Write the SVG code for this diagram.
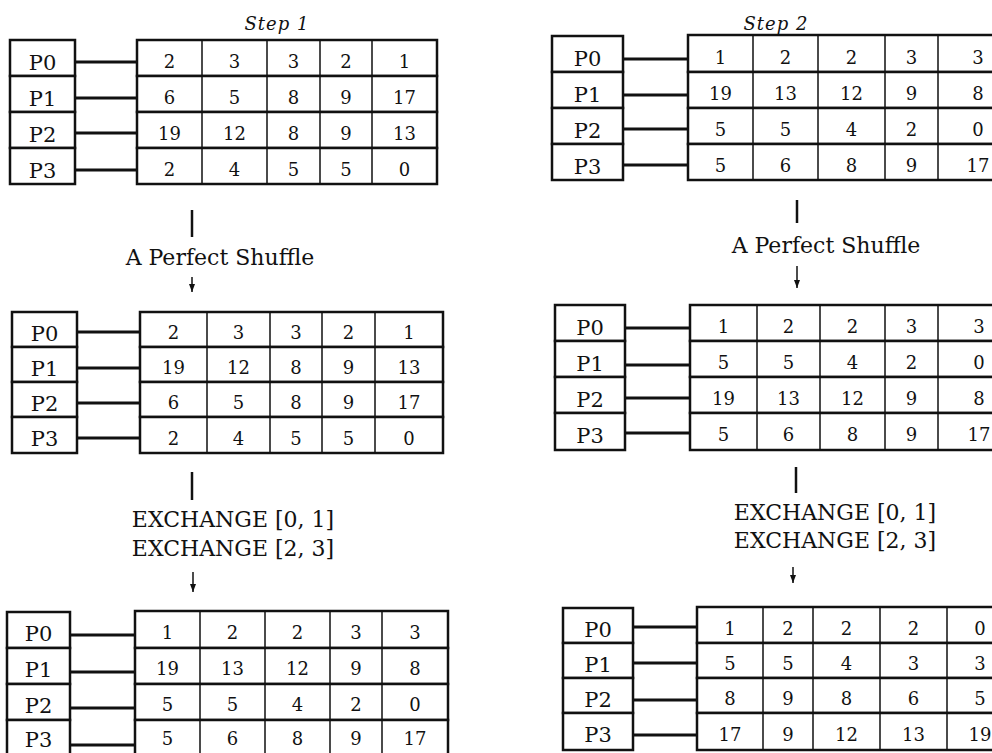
<svg xmlns="http://www.w3.org/2000/svg" width="992" height="753" viewBox="0 0 992 753">
<style>
  .cell { fill: #fff; stroke: #111; stroke-width: 2.5; }
  .col { stroke: #111; stroke-width: 1.5; }
  .con { stroke: #111; stroke-width: 3; fill: none; }
  .flow { stroke: #111; stroke-width: 2.5; fill: none; }
  .arr { stroke: #111; stroke-width: 1.5; fill: none; }
  text { font-family: "DejaVu Serif", "Liberation Serif", serif; fill: #111; text-anchor: middle; }
  .n { font-size: 18px; }
  .p { font-size: 21px; }
  .lbl { font-size: 22px; }
  .step { font-size: 18px; font-style: italic; letter-spacing: 1px; }
</style>
<defs>
  <marker id="ah" viewBox="0 0 8 6" refX="8" refY="3" markerWidth="8" markerHeight="6" markerUnits="userSpaceOnUse" orient="auto">
    <path d="M0,0 L8,3 L0,6 z" fill="#111"/>
  </marker>
</defs>
<rect width="992" height="753" fill="#fff"/>

<!-- Labels -->
<g id="label-step1"><text class="step" x="277" y="30">Step 1</text></g>
<g id="label-step2"><text class="step" x="776" y="30">Step 2</text></g>
<g id="label-shuffle-left"><text class="lbl" x="220" y="265">A Perfect Shuffle</text></g>
<g id="label-shuffle-right"><text class="lbl" x="826" y="253">A Perfect Shuffle</text></g>
<g id="label-exchange-left"><text class="lbl" x="233" y="527">EXCHANGE [0, 1]</text><text class="lbl" x="233" y="556">EXCHANGE [2, 3]</text></g>
<g id="label-exchange-right"><text class="lbl" x="835" y="520">EXCHANGE [0, 1]</text><text class="lbl" x="835" y="548">EXCHANGE [2, 3]</text></g>

<!-- ===== Left block 1 ===== -->
<g id="L1-P0"><rect class="cell" x="10" y="40" width="65" height="36"/><text class="p" x="42.5" y="70">P0</text></g>
<g id="L1-P1"><rect class="cell" x="10" y="76" width="65" height="36"/><text class="p" x="42.5" y="106">P1</text></g>
<g id="L1-P2"><rect class="cell" x="10" y="112" width="65" height="36"/><text class="p" x="42.5" y="142">P2</text></g>
<g id="L1-P3"><rect class="cell" x="10" y="148" width="65" height="36"/><text class="p" x="42.5" y="178">P3</text></g>
<g id="L1-R0"><rect class="cell" x="137" y="40" width="300" height="36"/><path class="col" d="M202,40V76M267,40V76M320,40V76M372,40V76"/>
  <text class="n" y="68"><tspan x="169.5">2</tspan><tspan x="234.5">3</tspan><tspan x="293.5">3</tspan><tspan x="346">2</tspan><tspan x="404.5">1</tspan></text></g>
<g id="L1-R1"><rect class="cell" x="137" y="76" width="300" height="36"/><path class="col" d="M202,76V112M267,76V112M320,76V112M372,76V112"/>
  <text class="n" y="104"><tspan x="169.5">6</tspan><tspan x="234.5">5</tspan><tspan x="293.5">8</tspan><tspan x="346">9</tspan><tspan x="404.5">17</tspan></text></g>
<g id="L1-R2"><rect class="cell" x="137" y="112" width="300" height="36"/><path class="col" d="M202,112V148M267,112V148M320,112V148M372,112V148"/>
  <text class="n" y="140"><tspan x="169.5">19</tspan><tspan x="234.5">12</tspan><tspan x="293.5">8</tspan><tspan x="346">9</tspan><tspan x="404.5">13</tspan></text></g>
<g id="L1-R3"><rect class="cell" x="137" y="148" width="300" height="36"/><path class="col" d="M202,148V184M267,148V184M320,148V184M372,148V184"/>
  <text class="n" y="176"><tspan x="169.5">2</tspan><tspan x="234.5">4</tspan><tspan x="293.5">5</tspan><tspan x="346">5</tspan><tspan x="404.5">0</tspan></text></g>

<!-- ===== Left block 2 ===== -->
<g id="L2-P0"><rect class="cell" x="12" y="312" width="65" height="35"/><text class="p" x="44.5" y="341">P0</text></g>
<g id="L2-P1"><rect class="cell" x="12" y="347" width="65" height="35"/><text class="p" x="44.5" y="376">P1</text></g>
<g id="L2-P2"><rect class="cell" x="12" y="382" width="65" height="35"/><text class="p" x="44.5" y="411">P2</text></g>
<g id="L2-P3"><rect class="cell" x="12" y="417" width="65" height="36"/><text class="p" x="44.5" y="446">P3</text></g>
<g id="L2-R0"><rect class="cell" x="140" y="312" width="303" height="35"/><path class="col" d="M207,312V347M270,312V347M322,312V347M375,312V347"/>
  <text class="n" y="339"><tspan x="173.5">2</tspan><tspan x="238.5">3</tspan><tspan x="296">3</tspan><tspan x="348.5">2</tspan><tspan x="409">1</tspan></text></g>
<g id="L2-R1"><rect class="cell" x="140" y="347" width="303" height="35"/><path class="col" d="M207,347V382M270,347V382M322,347V382M375,347V382"/>
  <text class="n" y="374"><tspan x="173.5">19</tspan><tspan x="238.5">12</tspan><tspan x="296">8</tspan><tspan x="348.5">9</tspan><tspan x="409">13</tspan></text></g>
<g id="L2-R2"><rect class="cell" x="140" y="382" width="303" height="35"/><path class="col" d="M207,382V417M270,382V417M322,382V417M375,382V417"/>
  <text class="n" y="409"><tspan x="173.5">6</tspan><tspan x="238.5">5</tspan><tspan x="296">8</tspan><tspan x="348.5">9</tspan><tspan x="409">17</tspan></text></g>
<g id="L2-R3"><rect class="cell" x="140" y="417" width="303" height="36"/><path class="col" d="M207,417V453M270,417V453M322,417V453M375,417V453"/>
  <text class="n" y="445"><tspan x="173.5">2</tspan><tspan x="238.5">4</tspan><tspan x="296">5</tspan><tspan x="348.5">5</tspan><tspan x="409">0</tspan></text></g>

<!-- ===== Left block 3 ===== -->
<g id="L3-P0"><rect class="cell" x="7" y="612" width="63" height="36"/><text class="p" x="38.5" y="641">P0</text></g>
<g id="L3-P1"><rect class="cell" x="7" y="648" width="63" height="36"/><text class="p" x="38.5" y="677">P1</text></g>
<g id="L3-P2"><rect class="cell" x="7" y="684" width="63" height="36"/><text class="p" x="38.5" y="713">P2</text></g>
<g id="L3-P3"><rect class="cell" x="7" y="720" width="63" height="36"/><text class="p" x="38.5" y="747">P3</text></g>
<g id="L3-R0"><rect class="cell" x="135" y="611" width="313" height="37"/><path class="col" d="M200,611V648M265,611V648M330,611V648M382,611V648"/>
  <text class="n" y="639"><tspan x="167.5">1</tspan><tspan x="232.5">2</tspan><tspan x="297.5">2</tspan><tspan x="356">3</tspan><tspan x="415">3</tspan></text></g>
<g id="L3-R1"><rect class="cell" x="135" y="648" width="313" height="36"/><path class="col" d="M200,648V684M265,648V684M330,648V684M382,648V684"/>
  <text class="n" y="675"><tspan x="167.5">19</tspan><tspan x="232.5">13</tspan><tspan x="297.5">12</tspan><tspan x="356">9</tspan><tspan x="415">8</tspan></text></g>
<g id="L3-R2"><rect class="cell" x="135" y="684" width="313" height="36"/><path class="col" d="M200,684V720M265,684V720M330,684V720M382,684V720"/>
  <text class="n" y="711"><tspan x="167.5">5</tspan><tspan x="232.5">5</tspan><tspan x="297.5">4</tspan><tspan x="356">2</tspan><tspan x="415">0</tspan></text></g>
<g id="L3-R3"><rect class="cell" x="135" y="720" width="313" height="36"/><path class="col" d="M200,720V756M265,720V756M330,720V756M382,720V756"/>
  <text class="n" y="745"><tspan x="167.5">5</tspan><tspan x="232.5">6</tspan><tspan x="297.5">8</tspan><tspan x="356">9</tspan><tspan x="415">17</tspan></text></g>

<!-- ===== Right block 1 ===== -->
<g id="R1-P0"><rect class="cell" x="552" y="36" width="71" height="36"/><text class="p" x="587.5" y="66">P0</text></g>
<g id="R1-P1"><rect class="cell" x="552" y="72" width="71" height="36"/><text class="p" x="587.5" y="102">P1</text></g>
<g id="R1-P2"><rect class="cell" x="552" y="108" width="71" height="36"/><text class="p" x="587.5" y="138">P2</text></g>
<g id="R1-P3"><rect class="cell" x="552" y="144" width="71" height="36"/><text class="p" x="587.5" y="174">P3</text></g>
<g id="R1-R0"><rect class="cell" x="688" y="35" width="312" height="37"/><path class="col" d="M753,35V72M818,35V72M885,35V72M938,35V72"/>
  <text class="n" y="64"><tspan x="720.5">1</tspan><tspan x="785.5">2</tspan><tspan x="851.5">2</tspan><tspan x="911.5">3</tspan><tspan x="978">3</tspan></text></g>
<g id="R1-R1"><rect class="cell" x="688" y="72" width="312" height="36"/><path class="col" d="M753,72V108M818,72V108M885,72V108M938,72V108"/>
  <text class="n" y="100"><tspan x="720.5">19</tspan><tspan x="785.5">13</tspan><tspan x="851.5">12</tspan><tspan x="911.5">9</tspan><tspan x="978">8</tspan></text></g>
<g id="R1-R2"><rect class="cell" x="688" y="108" width="312" height="36"/><path class="col" d="M753,108V144M818,108V144M885,108V144M938,108V144"/>
  <text class="n" y="136"><tspan x="720.5">5</tspan><tspan x="785.5">5</tspan><tspan x="851.5">4</tspan><tspan x="911.5">2</tspan><tspan x="978">0</tspan></text></g>
<g id="R1-R3"><rect class="cell" x="688" y="144" width="312" height="36"/><path class="col" d="M753,144V180M818,144V180M885,144V180M938,144V180"/>
  <text class="n" y="172"><tspan x="720.5">5</tspan><tspan x="785.5">6</tspan><tspan x="851.5">8</tspan><tspan x="911.5">9</tspan><tspan x="978">17</tspan></text></g>

<!-- ===== Right block 2 ===== -->
<g id="R2-P0"><rect class="cell" x="555" y="305" width="70" height="36"/><text class="p" x="590" y="335">P0</text></g>
<g id="R2-P1"><rect class="cell" x="555" y="341" width="70" height="36"/><text class="p" x="590" y="371">P1</text></g>
<g id="R2-P2"><rect class="cell" x="555" y="377" width="70" height="36"/><text class="p" x="590" y="407">P2</text></g>
<g id="R2-P3"><rect class="cell" x="555" y="413" width="70" height="37"/><text class="p" x="590" y="443">P3</text></g>
<g id="R2-R0"><rect class="cell" x="690" y="305" width="310" height="36"/><path class="col" d="M757,305V341M820,305V341M885,305V341M938,305V341"/>
  <text class="n" y="333"><tspan x="723.5">1</tspan><tspan x="788.5">2</tspan><tspan x="852.5">2</tspan><tspan x="911.5">3</tspan><tspan x="979">3</tspan></text></g>
<g id="R2-R1"><rect class="cell" x="690" y="341" width="310" height="36"/><path class="col" d="M757,341V377M820,341V377M885,341V377M938,341V377"/>
  <text class="n" y="369"><tspan x="723.5">5</tspan><tspan x="788.5">5</tspan><tspan x="852.5">4</tspan><tspan x="911.5">2</tspan><tspan x="979">0</tspan></text></g>
<g id="R2-R2"><rect class="cell" x="690" y="377" width="310" height="36"/><path class="col" d="M757,377V413M820,377V413M885,377V413M938,377V413"/>
  <text class="n" y="405"><tspan x="723.5">19</tspan><tspan x="788.5">13</tspan><tspan x="852.5">12</tspan><tspan x="911.5">9</tspan><tspan x="979">8</tspan></text></g>
<g id="R2-R3"><rect class="cell" x="690" y="413" width="310" height="37"/><path class="col" d="M757,413V450M820,413V450M885,413V450M938,413V450"/>
  <text class="n" y="441"><tspan x="723.5">5</tspan><tspan x="788.5">6</tspan><tspan x="852.5">8</tspan><tspan x="911.5">9</tspan><tspan x="979">17</tspan></text></g>

<!-- ===== Right block 3 ===== -->
<g id="R3-P0"><rect class="cell" x="563" y="608" width="70" height="35"/><text class="p" x="598" y="637">P0</text></g>
<g id="R3-P1"><rect class="cell" x="563" y="643" width="70" height="35"/><text class="p" x="598" y="672">P1</text></g>
<g id="R3-P2"><rect class="cell" x="563" y="678" width="70" height="35"/><text class="p" x="598" y="707">P2</text></g>
<g id="R3-P3"><rect class="cell" x="563" y="713" width="70" height="37"/><text class="p" x="598" y="742">P3</text></g>
<g id="R3-R0"><rect class="cell" x="697" y="607" width="320" height="36"/><path class="col" d="M763,607V643M813,607V643M880,607V643M947,607V643"/>
  <text class="n" y="635"><tspan x="730">1</tspan><tspan x="788">2</tspan><tspan x="846.5">2</tspan><tspan x="913.5">2</tspan><tspan x="980">0</tspan></text></g>
<g id="R3-R1"><rect class="cell" x="697" y="643" width="320" height="35"/><path class="col" d="M763,643V678M813,643V678M880,643V678M947,643V678"/>
  <text class="n" y="670"><tspan x="730">5</tspan><tspan x="788">5</tspan><tspan x="846.5">4</tspan><tspan x="913.5">3</tspan><tspan x="980">3</tspan></text></g>
<g id="R3-R2"><rect class="cell" x="697" y="678" width="320" height="35"/><path class="col" d="M763,678V713M813,678V713M880,678V713M947,678V713"/>
  <text class="n" y="705"><tspan x="730">8</tspan><tspan x="788">9</tspan><tspan x="846.5">8</tspan><tspan x="913.5">6</tspan><tspan x="980">5</tspan></text></g>
<g id="R3-R3"><rect class="cell" x="697" y="713" width="320" height="37"/><path class="col" d="M763,713V750M813,713V750M880,713V750M947,713V750"/>
  <text class="n" y="741"><tspan x="730">17</tspan><tspan x="788">9</tspan><tspan x="846.5">12</tspan><tspan x="913.5">13</tspan><tspan x="980">19</tspan></text></g>

<!-- ===== Connectors ===== -->
<g id="connectors">
  <path class="con" d="M75,62H137M75,98H137M75,133H137M75,170H137"/>
  <path class="con" d="M77,332H140M77,368H140M77,403H140M77,438H140"/>
  <path class="con" d="M70,635H135M70,672H135M70,708H135M70,745H135"/>
  <path class="con" d="M623,59H688M623,95H688M623,129H688M623,165H688"/>
  <path class="con" d="M625,328H690M625,365H690M625,398H690M625,433H690"/>
  <path class="con" d="M633,627H697M633,663H697M633,700H697M633,735H697"/>
  <path class="flow" d="M192,210V237"/>
  <path class="arr" d="M192,277V292" marker-end="url(#ah)"/>
  <path class="flow" d="M192,472V500"/>
  <path class="arr" d="M193,572V592" marker-end="url(#ah)"/>
  <path class="flow" d="M797,200V223"/>
  <path class="arr" d="M797,266V288" marker-end="url(#ah)"/>
  <path class="flow" d="M796,467V493"/>
  <path class="arr" d="M793,567V583" marker-end="url(#ah)"/>
</g>
</svg>
